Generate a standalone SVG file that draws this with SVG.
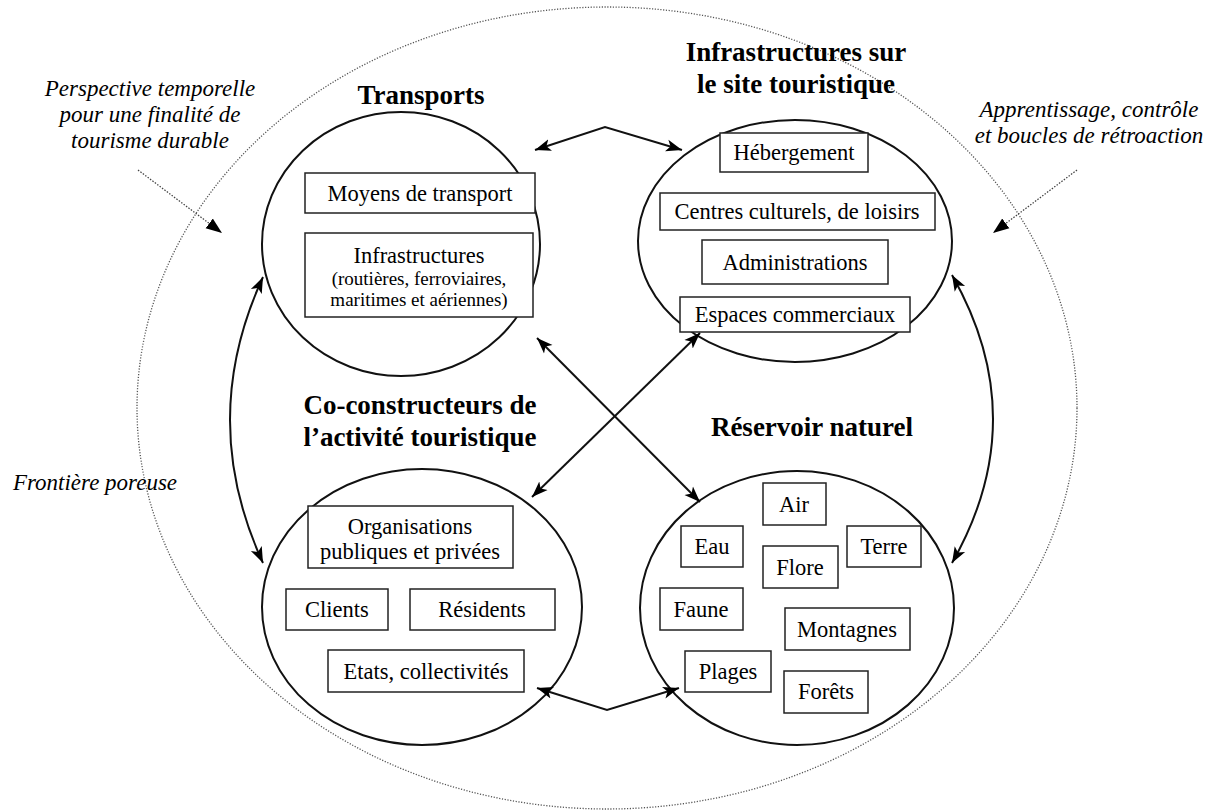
<svg xmlns="http://www.w3.org/2000/svg" width="1211" height="811" viewBox="0 0 1211 811">
<style>
.t{font-family:"Liberation Serif","Times New Roman",serif;fill:#000}
.title{font-size:27px;font-weight:bold;text-anchor:middle}
.box{font-size:22.5px;text-anchor:middle}
.sub{font-size:19px;text-anchor:middle}
.it{font-size:23px;font-style:italic;text-anchor:middle}
.circ{fill:none;stroke:#111;stroke-width:2}
.rect{fill:#fff;stroke:#222;stroke-width:1.5}
.conn{fill:none;stroke:#111;stroke-width:2;marker-start:url(#ah);marker-end:url(#ah)}
.dot{fill:none;stroke:#444;stroke-width:1.3;stroke-dasharray:1.5 1.5;marker-end:url(#dh)}
</style>
<defs>
<marker id="ah" markerUnits="userSpaceOnUse" markerWidth="18" markerHeight="14" refX="16" refY="6" orient="auto-start-reverse" viewBox="0 0 18 12">
<path d="M0,0 L16,6 L0,12 L4,6 Z" fill="#000"/>
</marker>
<marker id="dh" markerUnits="userSpaceOnUse" markerWidth="18" markerHeight="14" refX="16" refY="6" orient="auto" viewBox="0 0 18 12">
<path d="M0,0 L16,6 L0,12 Z" fill="#000"/>
</marker>
</defs>
<rect width="1211" height="811" fill="#fff"/>

<g id="frontiere">
<ellipse cx="607" cy="408" rx="470" ry="401" fill="none" stroke="#555" stroke-width="1.3" stroke-dasharray="1.2 1.6"/>
<text class="t it" x="95" y="490">Frontière poreuse</text>
</g>

<g id="perspective">
<text class="t it" x="150" y="96">Perspective temporelle</text>
<text class="t it" x="150" y="122">pour une finalité de</text>
<text class="t it" x="150" y="148">tourisme durable</text>
</g>

<g id="apprentissage">
<text class="t it" x="1089" y="117">Apprentissage, contrôle</text>
<text class="t it" x="1089" y="143">et boucles de rétroaction</text>
</g>

<g id="transports">
<ellipse class="circ" cx="401" cy="244" rx="139" ry="132"/>
<text class="t title" x="421" y="104">Transports</text>
<rect class="rect" x="305" y="173" width="230" height="40"/>
<text class="t box" x="420" y="201">Moyens de transport</text>
<rect class="rect" x="305" y="233" width="228" height="84"/>
<text class="t box" x="419" y="263">Infrastructures</text>
<text class="t sub" x="419" y="285">(routières, ferroviaires,</text>
<text class="t sub" x="419" y="306">maritimes et aériennes)</text>
</g>

<g id="infrastructures">
<ellipse class="circ" cx="795" cy="241" rx="157" ry="121"/>
<text class="t title" x="796" y="61">Infrastructures sur</text>
<text class="t title" x="796" y="93">le site touristique</text>
<rect class="rect" x="720" y="133" width="148" height="39"/>
<text class="t box" x="794" y="160">Hébergement</text>
<rect class="rect" x="660" y="193" width="275" height="37"/>
<text class="t box" x="797" y="219">Centres culturels, de loisirs</text>
<rect class="rect" x="702" y="240" width="186" height="44"/>
<text class="t box" x="795" y="270">Administrations</text>
<rect class="rect" x="680" y="297" width="230" height="35"/>
<text class="t box" x="795" y="322">Espaces commerciaux</text>
</g>

<g id="coconstructeurs">
<ellipse class="circ" cx="422" cy="607" rx="160" ry="138"/>
<text class="t title" x="420" y="414">Co-constructeurs de</text>
<text class="t title" x="420" y="446">l’activité touristique</text>
<rect class="rect" x="308" y="506" width="205" height="62"/>
<text class="t box" x="410" y="534">Organisations</text>
<text class="t box" x="410" y="559">publiques et privées</text>
<rect class="rect" x="286" y="589" width="102" height="41"/>
<text class="t box" x="337" y="617">Clients</text>
<rect class="rect" x="410" y="589" width="145" height="41"/>
<text class="t box" x="482" y="617">Résidents</text>
<rect class="rect" x="328" y="650" width="196" height="42"/>
<text class="t box" x="426" y="679">Etats, collectivités</text>
</g>

<g id="reservoir">
<ellipse class="circ" cx="797" cy="608" rx="157" ry="137"/>
<text class="t title" x="812" y="436">Réservoir naturel</text>
<rect class="rect" x="763" y="483" width="63" height="42"/>
<text class="t box" x="794" y="512">Air</text>
<rect class="rect" x="681" y="526" width="62" height="41"/>
<text class="t box" x="712" y="554">Eau</text>
<rect class="rect" x="763" y="546" width="75" height="42"/>
<text class="t box" x="800" y="575">Flore</text>
<rect class="rect" x="847" y="526" width="74" height="41"/>
<text class="t box" x="884" y="554">Terre</text>
<rect class="rect" x="660" y="588" width="83" height="42"/>
<text class="t box" x="701" y="617">Faune</text>
<rect class="rect" x="785" y="608" width="125" height="42"/>
<text class="t box" x="847" y="637">Montagnes</text>
<rect class="rect" x="685" y="651" width="86" height="41"/>
<text class="t box" x="728" y="679">Plages</text>
<rect class="rect" x="784" y="671" width="84" height="42"/>
<text class="t box" x="826" y="699">Forêts</text>
</g>

<g id="connectors">
<path class="conn" d="M535,150 L605,127 L682,150"/>
<path class="conn" d="M537,688 L607,710 L679,688"/>
<path class="conn" d="M263,277 Q197,420 263,563"/>
<path class="conn" d="M952,275 Q1034,419 952,563"/>
<path class="conn" d="M537,338 L700,502"/>
<path class="conn" d="M700,333 L532,497"/>
<path class="dot" d="M138,170 L222,233"/>
<path class="dot" d="M1077,170 L993,233"/>
</g>
</svg>
